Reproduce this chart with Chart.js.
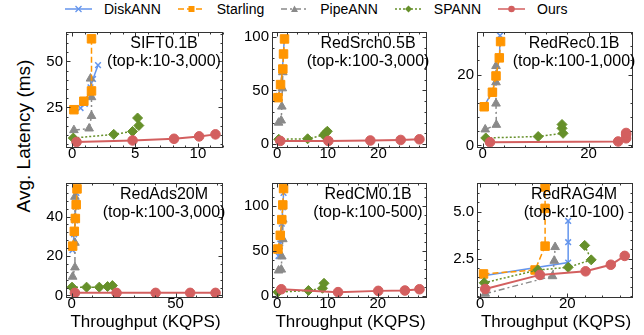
<!DOCTYPE html>
<html>
<head>
<meta charset="utf-8">
<script src="https://cdn.jsdelivr.net/npm/chart.js@4/dist/chart.umd.min.js"></script>
<style>
    body { margin:0; width:644px; height:335px; position:relative; background:#fff; overflow:hidden;
           font-family:"Liberation Sans", Arial, sans-serif; color:#000; }
    canvas { position:absolute; }
    .legend { position:absolute; left:65px; top:0; height:17px; display:flex; align-items:center; font-size:14px; }
    .item { display:flex; align-items:center; margin-right:17px; }
    .item svg { margin-right:12px; }
    .xtitle { position:absolute; font-size:17px; top:312px; width:220px; text-align:center; white-space:nowrap; }
    .ytitle { position:absolute; font-size:19px; left:24px; top:136px; white-space:nowrap;
              transform:translate(-50%,-50%) rotate(-90deg); }
</style>
</head>
<body>
<div class="legend" id="legend"></div>
<div class="ytitle">Avg. Latency (ms)</div>

<script>
const seriesNames = ["DiskANN", "Starling", "PipeANN", "SPANN", "Ours"];

// SIFT0.1B
const siftDiskANN  = [[0.66,24.7],[1.0,27],[1.45,36],[1.65,40.5],[2.05,48]];
const siftStarling = [[0.13,23.8],[0.92,28.4],[1.53,34],[1.53,62.3]];
const siftPipeANN  = [[0.13,12.7],[1.34,13.6],[1.53,20.4],[1.53,30.6],[1.45,40.7]];
const siftSPANN    = [[0.08,8.4],[3.3,10.4],[4.8,12],[5.3,15.2],[5.2,19.3]];
const siftOurs     = [[0.34,6.25],[4.8,7.1],[8.1,8],[10.1,9.3],[11.4,10.4]];
const siftXTicks = [0, 5, 10];
const siftYTicks = [25, 50];

// RedSrch0.5B
const srchDiskANN  = [[0.3,45],[0.7,56],[1.0,69],[1.2,83],[1.4,99]];
const srchStarling = [[0.13,43.3],[0.65,55.5],[1.1,70],[1.24,84],[1.43,98]];
const srchPipeANN  = [[0.26,20],[0.78,22],[0.9,35],[1.0,52],[1.1,67]];
const srchSPANN    = [[0.3,4.5],[6.0,5.0],[9.2,8.5],[9.6,10.5],[9.9,12]];
const srchOurs     = [[0.6,3],[10.1,3],[18.4,3.4],[24.4,3.9],[28.1,4.5]];
const srchXTicks = [0, 10, 20];
const srchYTicks = [0, 50, 100];

// RedRec0.1B
const recDiskANN  = [[0.35,11.2],[1.9,15.3],[2.6,19.8],[3.2,25],[3.3,31]];
const recStarling = [[0.31,10.9],[1.86,15.0],[2.54,19.6],[3.16,24.7],[3.4,29.3]];
const recPipeANN  = [[0.5,4.5],[2.6,5.8],[2.54,11.8],[2.54,17.8],[2.54,22.4]];
const recSPANN    = [[0.6,2.1],[10.5,2.5],[15.2,3.4],[15,4.8],[15,5.9]];
const recOurs     = [[1.4,0.9],[25.6,1.1],[27.1,2],[27.1,3],[27.1,3.5]];
const recXTicks = [0, 20];
const recYTicks = [0, 20];

// RedAds20M
const adsDiskANN  = [[0.4,23],[1.2,31],[1.6,38],[2.0,45],[2.3,52]];
const adsStarling = [[0.5,25],[1.3,32.5],[1.8,39],[2.2,46],[2.6,54]];
const adsPipeANN  = [[0.5,9.5],[1.6,14.2],[1.6,26.7],[1.6,39.5],[1.6,50]];
const adsSPANN    = [[0.2,4.2],[7.2,4.2],[13.3,4.2],[17.3,4.5],[19.6,5]];
const adsOurs     = [[1.6,1.3],[21.6,1.3],[40.4,1.3],[57,1.3],[69.2,1.3]];
const adsXTicks = [0, 50];
const adsYTicks = [0, 20, 40];

// RedCM0.1B
const cmDiskANN  = [[0.26,44],[0.6,58],[0.9,80],[1.1,98],[1.25,114]];
const cmStarling = [[0.13,51.8],[0.6,67],[0.9,84.4],[1.1,100.7],[1.25,118.8]];
const cmPipeANN  = [[0.26,28],[0.8,29],[0.9,43.5],[1.1,62.7],[1.1,84.4]];
const cmSPANN    = [[0.13,4],[6.2,5.8],[9,8.3],[9.3,13.8]];
const cmOurs     = [[0.8,7.2],[12.1,4],[20.1,5.4],[25.4,5.8],[28.3,7.2]];
const cmXTicks = [0, 10, 20];
const cmYTicks = [0, 50, 100];

// RedRAG4M
const ragDiskANN  = [[0.75,1.59],[20.2,2.29],[20.2,3.37],[20.2,4.5]];
const ragStarling = [[0.75,1.68],[12.6,1.89],[14.9,3.16],[14.9,5.17],[14.9,6.31]];
const ragPipeANN  = [[1.13,0.63],[16.6,1.56],[17,2.38],[17.2,3.11]];
const ragSPANN    = [[0.9,1.21],[13.2,1.89],[20.2,2.03],[25.5,2.43],[24,3.2]];
const ragOurs     = [[1.13,0.88],[13.7,1.63],[24.2,1.82],[30,2.17],[33.2,2.64]];
const ragXTicks = [0, 20];
const ragYTicks = [2.5, 5.0];

const styles = [
    { color:"#6495ED", point:"crossRot", radius:4,   dash:[],        width:1.5, order:4 },
    { color:"#FF9500", point:"rect",     radius:6,   dash:[6,3],     width:1.5, order:2 },
    { color:"#8A8A8A", point:"triangle", radius:5,   dash:[6,3,2,3], width:1.5, order:3 },
    { color:"#66902A", point:"rectRot",  radius:5,   dash:[2,2],     width:1.5, order:1 },
    { color:"#D35F5F", point:"circle",   radius:4.8, dash:[],        width:2,   order:0 }
];

const panels = [
    { title:"SIFT0.1B",    sub:"(top-k:10-3,000)",  series:[siftDiskANN, siftStarling, siftPipeANN, siftSPANN, siftOurs],
      xTicks:siftXTicks, yTicks:siftYTicks, xRange:[-0.5,12],   yRange:[3,66],       box:[66,30,225,148] },
    { title:"RedSrch0.5B", sub:"(top-k:100-3,000)", series:[srchDiskANN, srchStarling, srchPipeANN, srchSPANN, srchOurs],
      xTicks:srchXTicks, yTicks:srchYTicks, xRange:[-1.04,29.6], yRange:[-3.6,104.5], box:[272,30,429,148] },
    { title:"RedRec0.1B",  sub:"(top-k:100-1,000)", series:[recDiskANN, recStarling, recPipeANN, recSPANN, recOurs],
      xTicks:recXTicks, yTicks:recYTicks, xRange:[-1.05,28.4], yRange:[-0.74,32],   box:[477,30,635,148] },
    { title:"RedAds20M",   sub:"(top-k:100-3,000)", series:[adsDiskANN, adsStarling, adsPipeANN, adsSPANN, adsOurs],
      xTicks:adsXTicks, yTicks:adsYTicks, xRange:[-2.7,72.8],  yRange:[-1.3,57],    box:[66,181,225,298] },
    { title:"RedCM0.1B",   sub:"(top-k:100-500)",   series:[cmDiskANN, cmStarling, cmPipeANN, cmSPANN, cmOurs],
      xTicks:cmXTicks, yTicks:cmYTicks, xRange:[-1.05,29.8], yRange:[-2.5,125],   box:[272,181,429,298] },
    { title:"RedRAG4M",    sub:"(top-k:10-100)",    series:[ragDiskANN, ragStarling, ragPipeANN, ragSPANN, ragOurs],
      xTicks:ragXTicks, yTicks:ragYTicks, xRange:[-0.75,35.1], yRange:[0.4,6.52],  box:[477,181,635,298] }
];

Chart.defaults.font.family = '"Liberation Sans", Arial, sans-serif';
Chart.defaults.color = "#000";

// frame with inward ticks + panel title
const framePlugin = {
    id: "frame",
    afterDraw(chart, args, opts) {
        const { ctx, chartArea: a, scales: { x, y } } = chart;
        ctx.save();
        ctx.strokeStyle = "#333";
        ctx.lineWidth = 1;
        const L = Math.round(a.left) + 0.5, R = Math.round(a.right) - 0.5;
        const T = Math.round(a.top) + 0.5, B = Math.round(a.bottom) - 0.5;
        ctx.strokeRect(L, T, R - L, B - T);

        const marks = (ticks, min, max) => {
            const step = (ticks[1] - ticks[0]) / 5;
            const out = [];
            for (let v = Math.ceil(min / step) * step; v <= max; v += step) {
                const major = ticks.some(t => Math.abs(t - v) < step / 10);
                out.push([v, major ? 4 : 2]);
            }
            return out;
        };
        ctx.beginPath();
        marks(opts.xTicks, x.min, x.max).forEach(([v, len]) => {
            const px = Math.round(x.getPixelForValue(v)) + 0.5;
            ctx.moveTo(px, B); ctx.lineTo(px, B - len);
            ctx.moveTo(px, T); ctx.lineTo(px, T + len);
        });
        marks(opts.yTicks, y.min, y.max).forEach(([v, len]) => {
            const py = Math.round(y.getPixelForValue(v)) + 0.5;
            ctx.moveTo(L, py); ctx.lineTo(L + len, py);
            ctx.moveTo(R, py); ctx.lineTo(R - len, py);
        });
        ctx.stroke();

        ctx.fillStyle = "#000";
        ctx.font = '16px "Liberation Sans", Arial, sans-serif';
        ctx.textAlign = "center";
        ctx.textBaseline = "middle";
        const cx = a.right - 59;
        ctx.fillText(opts.title, cx, a.top + 12);
        ctx.fillText(opts.sub, cx, a.top + 30);
        ctx.restore();
    }
};

const fmt = ticks => {
    const dec = ticks.some(t => !Number.isInteger(t)) ? 1 : 0;
    return v => v.toFixed(dec);
};

panels.forEach((p, i) => {
    const [l, t, r, b] = p.box;
    const canvas = document.createElement("canvas");
    canvas.width = r - l + 45;
    canvas.height = b - t + 25;
    canvas.style.left = (l - 40) + "px";
    canvas.style.top = (t - 5) + "px";
    document.body.appendChild(canvas);

    new Chart(canvas.getContext("2d"), {
        type: "scatter",
        data: {
            datasets: p.series.map((pts, k) => ({
                label: seriesNames[k],
                data: pts.map(([xv, yv]) => ({ x: xv, y: yv })),
                showLine: true,
                borderColor: styles[k].color,
                backgroundColor: styles[k].color,
                borderWidth: styles[k].width,
                borderDash: styles[k].dash,
                pointStyle: styles[k].point,
                pointRadius: styles[k].radius,
                pointBorderWidth: styles[k].point === "crossRot" ? 1.5 : 1,
                order: styles[k].order
            }))
        },
        options: {
            responsive: false,
            animation: false,
            layout: { padding: { top: 5, right: 5, left: 0, bottom: 0 } },
            plugins: {
                legend: { display: false },
                tooltip: { enabled: false },
                frame: { title: p.title, sub: p.sub, xTicks: p.xTicks, yTicks: p.yTicks }
            },
            scales: {
                x: {
                    type: "linear",
                    min: p.xRange[0], max: p.xRange[1],
                    afterBuildTicks: s => { s.ticks = p.xTicks.map(v => ({ value: v })); },
                    afterFit: s => { s.height = 20; s.paddingLeft = 0; s.paddingRight = 0; },
                    grid: { display: false, drawTicks: false },
                    border: { display: false },
                    ticks: { font: { size: 15 }, padding: -3, maxRotation: 0, autoSkip: false, callback: fmt(p.xTicks) }
                },
                y: {
                    type: "linear",
                    min: p.yRange[0], max: p.yRange[1],
                    afterBuildTicks: s => { s.ticks = p.yTicks.map(v => ({ value: v })); },
                    afterFit: s => { s.width = 40; s.paddingTop = 0; s.paddingBottom = 0; },
                    grid: { display: false, drawTicks: false },
                    border: { display: false },
                    ticks: { font: { size: 15 }, padding: 3, autoSkip: false, callback: fmt(p.yTicks) }
                }
            }
        },
        plugins: [framePlugin]
    });

    if (i >= 3) {
        const xt = document.createElement("div");
        xt.className = "xtitle";
        xt.textContent = "Throughput (KQPS)";
        xt.style.left = ((l + r) / 2 - 110) + "px";
        document.body.appendChild(xt);
    }
});

// legend
function legendSvg(s) {
    const dash = s.dash.length ? `stroke-dasharray="${s.dash.join(",")}"` : "";
    const c = s.color;
    let m = "";
    if (s.point === "crossRot") m = `<path d="M10.5 3L16.5 9M16.5 3L10.5 9" stroke="${c}" stroke-width="1.3"/>`;
    if (s.point === "rect") m = `<rect x="10.5" y="3" width="6" height="6" fill="${c}"/>`;
    if (s.point === "triangle") m = `<path d="M13.5 2.5L17 9H10Z" fill="${c}"/>`;
    if (s.point === "rectRot") m = `<path d="M13.5 2.5L17 6L13.5 9.5L10 6Z" fill="${c}"/>`;
    if (s.point === "circle") m = `<circle cx="13.5" cy="6" r="3.3" fill="${c}"/>`;
    return `<svg width="27" height="12"><line x1="0" y1="6" x2="27" y2="6" stroke="${c}" stroke-width="1.5" ${dash}/>${m}</svg>`;
}
document.getElementById("legend").innerHTML = seriesNames.map((n, k) =>
    `<div class="item">${legendSvg(styles[k])}<span>${n}</span></div>`).join("");
</script>
</body>
</html>
